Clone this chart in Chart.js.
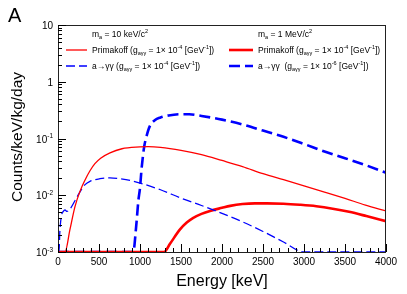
<!DOCTYPE html>
<html>
<head>
<meta charset="utf-8">
<script src="https://cdn.jsdelivr.net/npm/chart.js@4.4.1/dist/chart.umd.min.js"></script>
<style>
html,body{margin:0;padding:0;background:#fff;}
#c{display:block;}
</style>
</head>
<body>
<canvas id="c" width="407" height="294"></canvas>
<script>
// ---- Data ----
const xTicks = [0, 500, 1000, 1500, 2000, 2500, 3000, 3500, 4000];
const yTicks = [0.001, 0.01, 0.1, 1, 10];
const yTickExponents = ['-3', '-2', '-1', '', ''];
const yTickBases = ['10', '10', '10', '1', '10'];

// Primakoff, m_a = 10 keV/c^2 (thin red)
const energyPrimakoff10 = [0, 85, 146, 207, 268, 330, 390, 450, 520, 634, 780, 1000, 1100, 1250, 1500, 1750, 2000, 2250, 2500, 2750, 3000, 3250, 3500, 3750, 4000];
const countsPrimakoff10 = [0.001, 0.001, 0.0025, 0.0063, 0.0117, 0.0186, 0.027, 0.036, 0.045, 0.056, 0.066, 0.071, 0.072, 0.070, 0.062, 0.052, 0.041, 0.032, 0.024, 0.0188, 0.0147, 0.0114, 0.0088, 0.0067, 0.0053];

// a->gg, m_a = 10 keV/c^2 (thin blue dashed)
const energyDecay10 = [0, 12, 22, 40, 65, 85, 110, 146, 207, 268, 330, 390, 512, 634, 750, 878, 1000, 1250, 1500, 1750, 2000, 2250, 2500, 2750, 3000, 3500, 4000];
const countsDecay10 = [0.001, 0.001, 0.0022, 0.0042, 0.0052, 0.0055, 0.0052, 0.0057, 0.0080, 0.0115, 0.0154, 0.0176, 0.0196, 0.0203, 0.0196, 0.0183, 0.0164, 0.0125, 0.0089, 0.0066, 0.0048, 0.0034, 0.0023, 0.0015, 0.001, 0.001, 0.001];

// Primakoff, m_a = 1 MeV/c^2 (thick red)
const energyPrimakoff1M = [0, 1293, 1366, 1488, 1570, 1650, 1750, 1854, 2000, 2100, 2250, 2400, 2550, 2750, 2950, 3150, 3350, 3550, 3760, 4000];
const countsPrimakoff1M = [0.001, 0.001, 0.0014, 0.0025, 0.0033, 0.0040, 0.0047, 0.0053, 0.0060, 0.0065, 0.0070, 0.0072, 0.0072, 0.0071, 0.0068, 0.0064, 0.0058, 0.0051, 0.0043, 0.0035];

// a->gg, m_a = 1 MeV/c^2 (thick blue dashed)
const energyDecay1M = [0, 918, 950, 980, 1000, 1020, 1050, 1080, 1120, 1180, 1250, 1350, 1500, 1600, 1750, 2000, 2250, 2500, 2750, 3000, 3250, 3500, 3750, 4000];
const countsDecay1M = [0.001, 0.001, 0.0025, 0.008, 0.0135, 0.030, 0.070, 0.110, 0.165, 0.210, 0.235, 0.255, 0.268, 0.268, 0.250, 0.215, 0.177, 0.138, 0.107, 0.080, 0.059, 0.045, 0.034, 0.025];

const FONT = '"Liberation Sans", Arial, Helvetica, sans-serif';
const RED = '#ff0000', BLUE = '#0000ff';

function pts(xs, ys){ return xs.map((x,i)=>({x:x, y:ys[i]})); }

function richWidth(ctx, parts, size){
  let w = 0;
  for (const [t, m] of parts){
    const s = m === 'n' ? size : size*0.65;
    ctx.font = s + 'px ' + FONT;
    w += ctx.measureText(t).width;
  }
  return w;
}
function drawRich(ctx, x, y, parts, size){
  let cx = x;
  for (const [t, m] of parts){
    const s = m === 'n' ? size : size*0.65;
    const dy = m === 'sub' ? size*0.28 : (m === 'sup' ? -size*0.42 : 0);
    ctx.font = s + 'px ' + FONT;
    ctx.fillText(t, cx, y + dy);
    cx += ctx.measureText(t).width;
  }
}

const legendRows = [
  {col:0, row:0, parts:[['m','n'],['a','sub'],[' = 10 keV/c','n'],['2','sup']]},
  {col:0, row:1, parts:[['Primakoff (g','n'],['a\u03b3\u03b3','sub'],[' = 1\u00d7 10','n'],['-4','sup'],[' [GeV','n'],['-1','sup'],['])','n']], color:RED, width:1.3, dash:[]},
  {col:0, row:2, parts:[['a\u2192\u03b3\u03b3 (g','n'],['a\u03b3\u03b3','sub'],[' = 1\u00d7 10','n'],['-4','sup'],[' [GeV','n'],['-1','sup'],['])','n']], color:BLUE, width:1.3, dash:[9,4]},
  {col:1, row:0, parts:[['m','n'],['a','sub'],[' = 1 MeV/c','n'],['2','sup']]},
  {col:1, row:1, parts:[['Primakoff (g','n'],['a\u03b3\u03b3','sub'],[' = 1\u00d7 10','n'],['-4','sup'],[' [GeV','n'],['-1','sup'],['])','n']], color:RED, width:2.6, dash:[]},
  {col:1, row:2, parts:[['a\u2192\u03b3\u03b3  (g','n'],['a\u03b3\u03b3','sub'],[' = 1\u00d7 10','n'],['-6','sup'],[' [GeV','n'],['-1','sup'],['])','n']], color:BLUE, width:2.6, dash:[11,5]}
];

const decorPlugin = {
  id: 'decor',
  afterDraw(chart){
    const {ctx, chartArea:a, scales:{x, y}} = chart;
    ctx.save();
    ctx.setLineDash([]);
    // frame
    ctx.strokeStyle = '#222';
    ctx.lineWidth = 1;
    ctx.strokeRect(Math.round(a.left) + 0.5, Math.round(a.top) + 0.5, Math.round(a.right - a.left) - 1, Math.round(a.bottom - a.top));
    // x ticks (inside)
    ctx.strokeStyle = '#000';
    ctx.beginPath();
    for (let v = 0; v <= 4000; v += 100){
      const px = Math.round(x.getPixelForValue(v)) + 0.5;
      const len = v % 500 === 0 ? 8 : 4;
      ctx.moveTo(px, a.bottom); ctx.lineTo(px, a.bottom - len);
    }
    // y ticks (inside)
    for (let d = -3; d <= 1; d++){
      for (let m = 1; m <= 9; m++){
        const v = m * Math.pow(10, d);
        if (v > 10.0001) break;
        const py = Math.round(y.getPixelForValue(v)) + 0.5;
        const len = m === 1 ? 8 : 4;
        ctx.moveTo(a.left, py); ctx.lineTo(a.left + len, py);
      }
    }
    ctx.stroke();

    ctx.fillStyle = '#000';
    ctx.textBaseline = 'alphabetic';
    // x tick labels
    ctx.font = '10px ' + FONT;
    ctx.textAlign = 'center';
    for (const v of xTicks){
      ctx.fillText(String(v), x.getPixelForValue(v), 265);
    }
    // y tick labels with superscripts
    ctx.textAlign = 'left';
    yTicks.forEach((v, i) => {
      const parts = [[yTickBases[i], 'n']];
      if (yTickExponents[i]) parts.push([yTickExponents[i], 'sup']);
      const w = richWidth(ctx, parts, 10);
      drawRich(ctx, 53 - w, y.getPixelForValue(v) + 4, parts, 10);
    });
    // axis titles
    ctx.font = '16px ' + FONT;
    ctx.textAlign = 'center';
    ctx.fillText('Energy [keV]', (a.left + a.right)/2, 286);
    ctx.save();
    ctx.translate(22, 137);
    ctx.rotate(-Math.PI/2);
    ctx.font = '15.5px ' + FONT;
    ctx.fillText('Counts/keV/kg/day', 0, 0);
    ctx.restore();
    // panel letter
    ctx.textAlign = 'left';
    ctx.font = '20px ' + FONT;
    ctx.fillText('A', 8, 22);
    // legend
    const colSample = [[66, 87], [229, 253]];
    const colText = [92, 258];
    const rowY = [37, 53, 69];
    for (const r of legendRows){
      if (r.color){
        ctx.save();
        ctx.strokeStyle = r.color; ctx.lineWidth = r.width; ctx.setLineDash(r.dash);
        const yy = rowY[r.row] - 3;
        ctx.beginPath(); ctx.moveTo(colSample[r.col][0], yy); ctx.lineTo(colSample[r.col][1], yy); ctx.stroke();
        ctx.restore();
      }
      ctx.fillStyle = '#000';
      ctx.textAlign = 'left';
      drawRich(ctx, colText[r.col], rowY[r.row], r.parts, 8.5);
    }
    ctx.restore();
  }
};

const common = {pointRadius: 0, cubicInterpolationMode: 'monotone', fill: false};
new Chart(document.getElementById('c'), {
  type: 'line',
  data: {
    datasets: [
      Object.assign({label:'Primakoff 10 keV', data: pts(energyPrimakoff10, countsPrimakoff10), borderColor: RED, borderWidth: 1.3}, common),
      Object.assign({label:'a->gg 10 keV', data: pts(energyDecay10, countsDecay10), borderColor: BLUE, borderWidth: 1.3, borderDash:[9,4]}, common),
      Object.assign({label:'Primakoff 1 MeV', data: pts(energyPrimakoff1M, countsPrimakoff1M), borderColor: RED, borderWidth: 2.6}, common),
      Object.assign({label:'a->gg 1 MeV', data: pts(energyDecay1M, countsDecay1M), borderColor: BLUE, borderWidth: 2.6, borderDash:[11,5]}, common)
    ]
  },
  options: {
    responsive: false,
    animation: false,
    devicePixelRatio: 1,
    layout: {padding: {left: 58, right: 21, top: 25, bottom: 42}},
    plugins: {legend: {display: false}, tooltip: {enabled: false}},
    scales: {
      x: {type: 'linear', display: false, min: 0, max: 4000},
      y: {type: 'logarithmic', display: false, min: 0.001, max: 10}
    }
  },
  plugins: [decorPlugin]
});
</script>
</body>
</html>
